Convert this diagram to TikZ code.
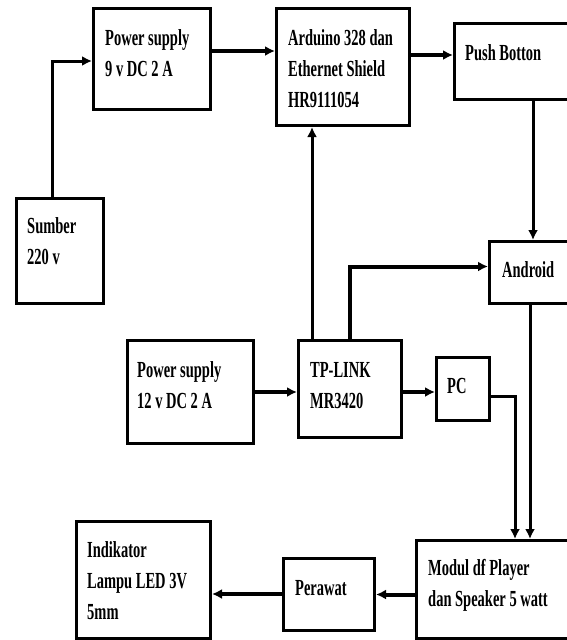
\documentclass[tikz,border=0pt]{standalone}
\usepackage{fontspec}
\setmainfont{Liberation Serif}[FakeStretch=0.63]
\usetikzlibrary{arrows.meta,calc}

\begin{document}
\begin{tikzpicture}[x=1pt,y=-1pt,
  blok/.style={draw=black,line width=3pt,anchor=north west,inner sep=0pt},
  teks/.style={anchor=base west,align=left,inner sep=0pt,
    font=\fontsize{23}{31}\selectfont\bfseries},
  arr/.style={line width=3pt,-{Latex[length=10pt,width=10pt]}},
  arrh/.style={arr,line width=4pt}]
\useasboundingbox (0,0) rectangle (566,640);

% blok
\node[blok,minimum width=87pt,minimum height=105pt] (sumber) at (15,197) {};
\node[blok,minimum width=117pt,minimum height=101pt] (ps9) at (92,7) {};
\node[blok,minimum width=133pt,minimum height=117pt] (ard) at (275,7) {};
\node[blok,minimum width=119pt,minimum height=76pt] (push) at (453,22) {};
\node[blok,minimum width=84pt,minimum height=62pt] (andr) at (488,240) {};
\node[blok,minimum width=126pt,minimum height=103pt] (ps12) at (126,339) {};
\node[blok,minimum width=103pt,minimum height=97pt] (tplink) at (297,339) {};
\node[blok,minimum width=53pt,minimum height=63pt] (pc) at (435,356) {};
\node[blok,minimum width=157pt,minimum height=98pt] (modul) at (415,539) {};
\node[blok,minimum width=91pt,minimum height=72pt] (perawat) at (282,557) {};
\node[blok,minimum width=134pt,minimum height=117pt] (indik) at (75,520) {};

% teks (base = baris terakhir)
\node[teks] (sumber-t) at ([shift={(12pt,-67pt)}]sumber.north west) {Sumber\\220 v};
\node[teks] (ps9-t) at ([shift={(13pt,-69pt)}]ps9.north west) {Power supply\\9 v DC 2 A};
\node[teks] (ard-t) at ([shift={(13pt,-100pt)}]ard.north west) {Arduino 328 dan\\Ethernet Shield\\HR9111054};
\node[teks] (push-t) at ([shift={(12pt,-38pt)}]push.north west) {Push Botton};
\node[teks] (andr-t) at ([shift={(14pt,-37pt)}]andr.north west) {Android};
\node[teks] (ps12-t) at ([shift={(11pt,-69pt)}]ps12.north west) {Power supply\\12 v DC 2 A};
\node[teks] (tplink-t) at ([shift={(13pt,-69pt)}]tplink.north west) {TP-LINK\\MR3420};
\node[teks] (pc-t) at ([shift={(12pt,-37pt)}]pc.north west) {PC};
\node[teks] (modul-t) at ([shift={(13pt,-67pt)}]modul.north west) {Modul df Player\\dan Speaker 5 watt};
\node[teks] (perawat-t) at ([shift={(13pt,-38pt)}]perawat.north west) {Perawat};
\node[teks] (indik-t) at ([shift={(12pt,-99pt)}]indik.north west) {Indikator\\Lampu LED 3V\\5mm};

% panah
\draw[arr] ([xshift=37pt]sumber.north west) |- ([yshift=-2pt]ps9.west);
\draw[arrh] ([yshift=8pt]ps9.east) -- ([yshift=8pt]ps9.east -| ard.west);
\draw[arrh] ([yshift=12pt]ard.east) -- ([yshift=12pt]ard.east -| push.west);
\draw[arr] ([xshift=80pt]push.south west) -- ([xshift=80pt]push.south west |- andr.north);
\draw[arrh] ([xshift=53pt]tplink.north west) |- ([yshift=6pt]andr.west);
\draw[arr] ([xshift=15pt]tplink.north west) -- ([xshift=15pt]tplink.north west |- ard.south);
\draw[arrh] (ps12.east) -- (ps12.east -| tplink.west);
\draw[arrh] ([yshift=-3pt]tplink.east) -- ([yshift=-3pt]tplink.east -| pc.west);
\draw[arr] ([yshift=-7pt]pc.east) -| ([xshift=100pt]modul.north west);
\draw[arr] ([xshift=42pt]andr.south west) -- ([xshift=42pt]andr.south west |- modul.north);
\draw[arrh] (modul.west |- perawat.east) -- (perawat.east);
\draw[arrh] ([yshift=-14pt]indik.east -| perawat.west) -- ([yshift=-14pt]indik.east);

\end{tikzpicture}
\end{document}
